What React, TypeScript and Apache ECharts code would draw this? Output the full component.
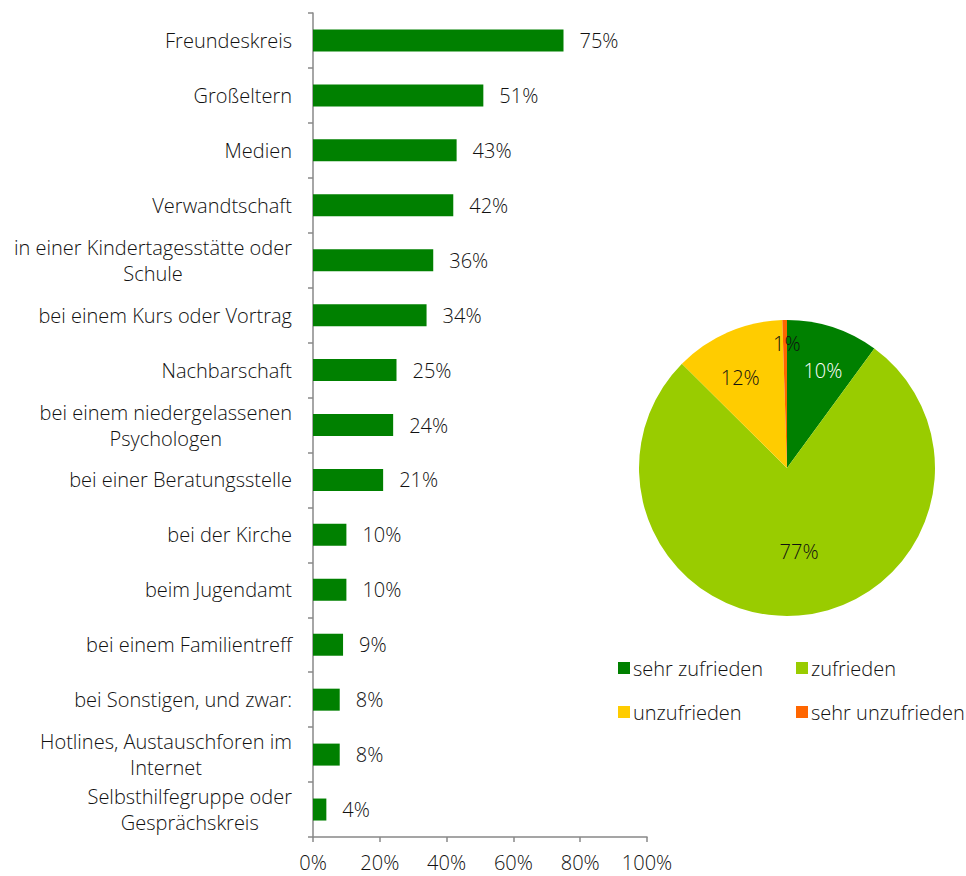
import React, { useEffect, useRef } from "react";
import * as echarts from "echarts";

const categories = [
  "Freundeskreis",
  "Großeltern",
  "Medien",
  "Verwandtschaft",
  "in einer Kindertagesstätte oder\nSchule",
  "bei einem Kurs oder Vortrag",
  "Nachbarschaft",
  "bei einem niedergelassenen\nPsychologen",
  "bei einer Beratungsstelle",
  "bei der Kirche",
  "beim Jugendamt",
  "bei einem Familientreff",
  "bei Sonstigen, und zwar:",
  "Hotlines, Austauschforen im\nInternet",
  "Selbsthilfegruppe oder\nGesprächskreis",
];
const barValues = [75, 51, 43, 42, 36, 34, 25, 24, 21, 10, 10, 9, 8, 8, 4];
const xTicks = [0, 20, 40, 60, 80, 100];

const pieNames = ["sehr zufrieden", "zufrieden", "unzufrieden", "sehr unzufrieden"];
const pieValues = [10, 77, 12, 0.5];
const pieColors = ["#008000", "#99CC00", "#FFCC00", "#FF6600"];
const pieLabelColors = ["#ffffff", "#111111", "#111111", "#111111"];
const pieLabelShift = [
  [12, -24],
  [6, 7],
  [-16, -20],
  [1, -48],
];

const FONT = "Open Sans";
const FS = 20;
const FW = 300;
const TXT = "#111111";

function measure(text: string): number {
  const c = document.createElement("canvas").getContext("2d");
  if (!c) return text.length * FS * 0.5;
  c.font = `${FW} ${FS}px "${FONT}"`;
  return c.measureText(text).width;
}

export default function App() {
  const ref = useRef<HTMLDivElement>(null);
  useEffect(() => {
    if (!ref.current) return;
    const chart = echarts.init(ref.current, null, { renderer: "svg" });
    const catData = categories.map((c) => {
      const lines = c.split("\n");
      if (lines.length < 2) return c;
      const w = Math.max(...lines.map(measure));
      return { value: c, textStyle: { align: "center", padding: [0, w, 0, 0] } };
    });
    const txt = { color: TXT, fontSize: FS, fontFamily: FONT, fontWeight: FW };
    chart.setOption({
      animation: false,
      textStyle: { fontFamily: FONT },
      grid: { left: 313, width: 334, top: 13, height: 824, containLabel: false },
      xAxis: {
        type: "value",
        min: xTicks[0],
        max: xTicks[xTicks.length - 1],
        interval: 20,
        splitLine: { show: false },
        axisLine: { show: true, lineStyle: { color: "#888888", width: 1.5 } },
        axisTick: { show: true, length: 5, lineStyle: { color: "#888888", width: 1.5 } },
        axisLabel: { formatter: (v: number) => v + "%", ...txt, margin: 15 },
      },
      yAxis: {
        type: "category",
        inverse: true,
        data: catData,
        axisLine: { show: true, lineStyle: { color: "#888888", width: 1.5 } },
        axisTick: { show: true, length: 5, lineStyle: { color: "#888888", width: 1.5 } },
        axisLabel: { ...txt, margin: 21, lineHeight: 26 },
      },
      legend: [
        {
          data: [pieNames[0], pieNames[2]],
          orient: "vertical",
          left: 618,
          top: 658,
          icon: "rect",
          itemWidth: 12,
          itemHeight: 12,
          itemGap: 24,
          padding: 0,
          textStyle: { ...txt, lineHeight: 20, padding: [0, 0, 0, -2] },
        },
        {
          data: [pieNames[1], pieNames[3]],
          orient: "vertical",
          left: 796,
          top: 658,
          icon: "rect",
          itemWidth: 12,
          itemHeight: 12,
          itemGap: 24,
          padding: 0,
          textStyle: { ...txt, lineHeight: 20, padding: [0, 0, 0, -2] },
        },
      ],
      series: [
        {
          type: "bar",
          data: barValues,
          barWidth: 22,
          itemStyle: { color: "#008000" },
          label: {
            show: true,
            position: "right",
            distance: 16,
            formatter: (p: any) => p.value + "%",
            ...txt,
          },
        },
        {
          type: "pie",
          center: [787, 468],
          radius: 148,
          startAngle: 90,
          clockwise: true,
          data: pieNames.map((n, i) => ({
            name: n,
            value: pieValues[i],
            itemStyle: { color: pieColors[i] },
            label: { color: pieLabelColors[i] },
          })),
          label: {
            show: true,
            position: "inside",
            formatter: (p: any) => Math.round(p.value) + "%",
            fontSize: FS,
            fontFamily: FONT,
            fontWeight: FW,
          },
          labelLayout: (p: any) => ({
            dx: pieLabelShift[p.dataIndex][0],
            dy: pieLabelShift[p.dataIndex][1],
            hideOverlap: false,
          }),
          labelLine: { show: false },
          emphasis: { disabled: true },
        },
      ],
    });
    return () => chart.dispose();
  }, []);
  return (
    <div
      ref={ref}
      style={{ position: "fixed", left: 0, top: 0, width: 966, height: 876, background: "#fff" }}
    />
  );
}
